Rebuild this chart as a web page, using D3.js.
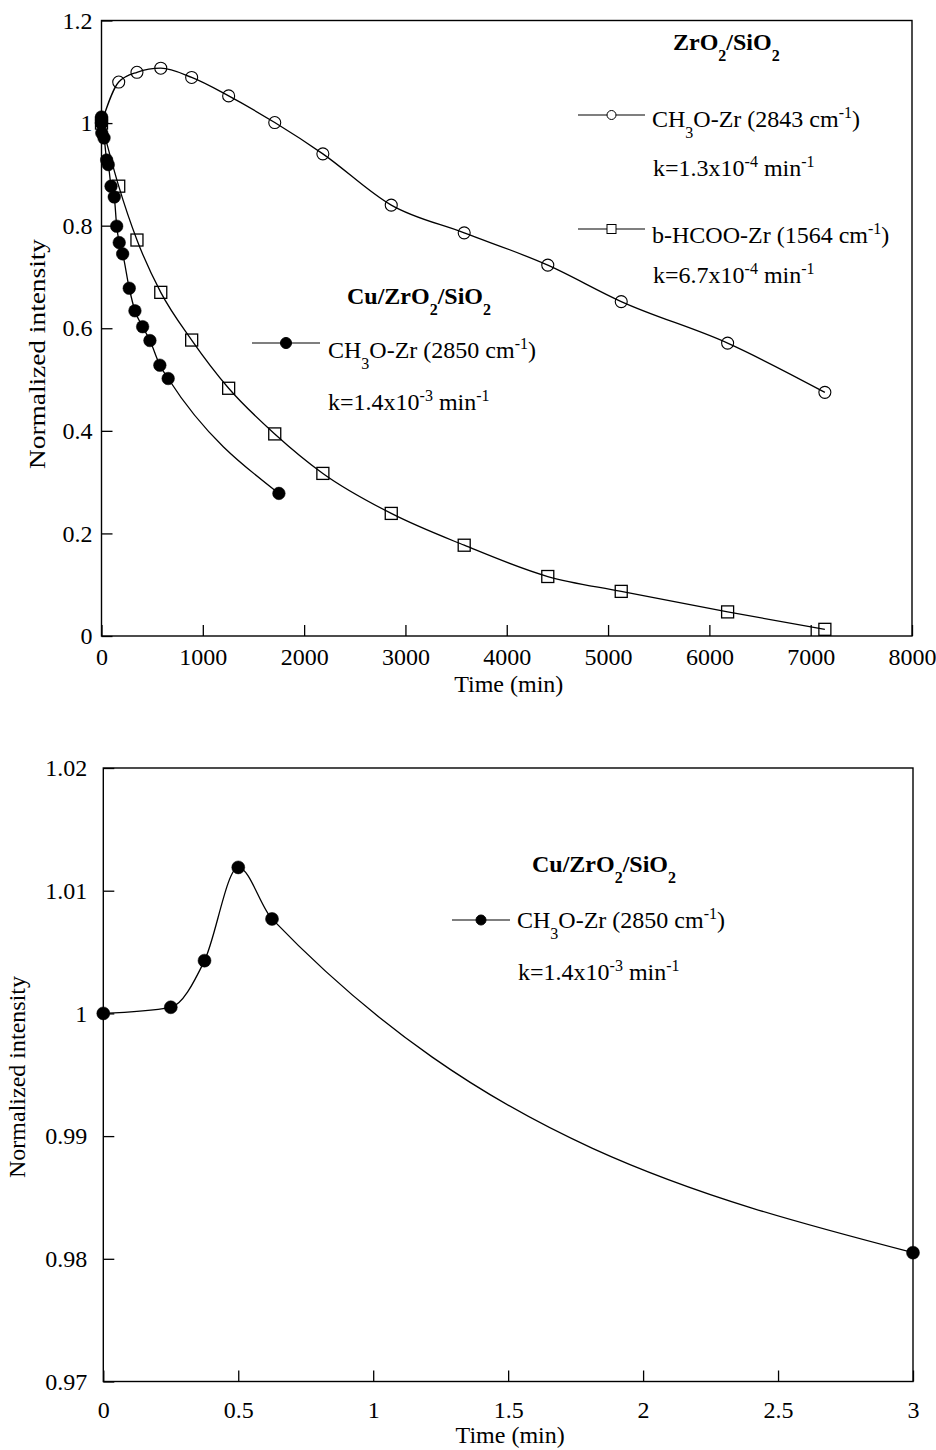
<!DOCTYPE html>
<html>
<head>
<meta charset="utf-8">
<script src="https://cdn.jsdelivr.net/npm/d3@7"></script>
<style>
  body { margin: 0; background: #fff; }
  svg text { font-family: "Liberation Serif", "Times New Roman", serif; fill: #000; white-space: pre; }
</style>
</head>
<body>
<svg id="chart" width="936" height="1450"></svg>
<script>
// upper panel, time in min
const timeZr = [0, 170, 350, 585, 890, 1255, 1710, 2185, 2860, 3580, 4405, 5130, 6180, 7140];
const methoxyZr = [1.0, 1.080, 1.099, 1.107, 1.089, 1.053, 1.001, 0.940, 0.840, 0.786, 0.723, 0.652, 0.571, 0.475];
const formateZr = [1.0, 0.877, 0.772, 0.670, 0.577, 0.483, 0.394, 0.317, 0.239, 0.177, 0.116, 0.087, 0.047, 0.013];

const timeCu = [0, 0.25, 0.375, 0.5, 0.625, 3, 25, 51, 67, 94, 126, 150, 175, 209, 274, 330, 406, 478, 576, 658, 1751];
const methoxyCu = [1.0, 1.0005, 1.0043, 1.0119, 1.0077, 0.9805, 0.971, 0.928, 0.919, 0.877, 0.856, 0.799, 0.767, 0.745, 0.678, 0.634, 0.603, 0.576, 0.528, 0.502, 0.278];

// lower panel: first 3 min of Cu/ZrO2/SiO2
const timeCuEarly = [0, 0.25, 0.375, 0.5, 0.625, 3];
const methoxyCuEarly = [1.0, 1.0005, 1.0043, 1.0119, 1.0077, 0.9805];

const ticksTopX = [0, 1000, 2000, 3000, 4000, 5000, 6000, 7000, 8000];
const ticksTopY = [0, 0.2, 0.4, 0.6, 0.8, 1, 1.2];
const ticksBotX = [0, 0.5, 1, 1.5, 2, 2.5, 3];
const ticksBotY = [0.97, 0.98, 0.99, 1, 1.01, 1.02];

const svg = d3.select('#chart');
const FS = 24;
const fmt = (d) => String(+d.toFixed(3));

function panel(opts) {
  const x = d3.scaleLinear().domain(opts.xDomain).range([opts.left, opts.right]);
  const y = d3.scaleLinear().domain(opts.yDomain).range([opts.bottom, opts.top]);
  const g = svg.append('g');

  g.append('rect')
    .attr('x', opts.left).attr('y', opts.top)
    .attr('width', opts.right - opts.left).attr('height', opts.bottom - opts.top)
    .attr('fill', 'none').attr('stroke', '#000').attr('stroke-width', 1.4);

  const ax = g.append('g').attr('transform', `translate(0,${opts.bottom})`)
    .call(d3.axisBottom(x).tickValues(opts.xTicks).tickFormat(fmt)
      .tickSizeInner(-11).tickSizeOuter(0).tickPadding(opts.xPad));
  const ay = g.append('g').attr('transform', `translate(${opts.left},0)`)
    .call(d3.axisLeft(y).tickValues(opts.yTicks).tickFormat(fmt)
      .tickSizeInner(-11).tickSizeOuter(0).tickPadding(opts.yPad));
  [ax, ay].forEach((a) => {
    a.select('.domain').remove();
    a.selectAll('line').attr('stroke', '#000').attr('stroke-width', 1.3);
    a.selectAll('text').attr('font-size', FS).attr('font-family', null);
  });

  g.append('text')
    .attr('x', (opts.left + opts.right) / 2 + 2).attr('y', opts.xTitleY)
    .attr('text-anchor', 'middle').attr('font-size', FS)
    .text('Time (min)');
  g.append('text')
    .attr('transform', `translate(${opts.yTitleX},${opts.yTitleMid}) rotate(-90) scale(${opts.yTitleStretch},1)`)
    .attr('text-anchor', 'middle').attr('font-size', FS)
    .text('Normalized intensity');

  return { x, y, g };
}

function series(p, xs, ys, marker, r) {
  const pts = xs.map((t, i) => [t, ys[i]]);
  p.g.append('path')
    .datum(pts)
    .attr('fill', 'none').attr('stroke', '#000').attr('stroke-width', 1.3)
    .attr('d', d3.line().x((d) => p.x(d[0])).y((d) => p.y(d[1])).curve(d3.curveMonotoneX));
  drawMarkers(p.g, pts.map((d) => [p.x(d[0]), p.y(d[1])]), marker, r);
}

function drawMarkers(g, pts, marker, r) {
  if (marker === 'square') {
    g.selectAll(null).data(pts).enter().append('rect')
      .attr('x', (d) => d[0] - r).attr('y', (d) => d[1] - r)
      .attr('width', 2 * r).attr('height', 2 * r)
      .attr('fill', 'none').attr('stroke', '#000').attr('stroke-width', 1.3);
  } else {
    g.selectAll(null).data(pts).enter().append('circle')
      .attr('cx', (d) => d[0]).attr('cy', (d) => d[1]).attr('r', r)
      .attr('fill', marker === 'filled' ? '#000' : 'none')
      .attr('stroke', '#000').attr('stroke-width', marker === 'filled' ? 0.5 : 1.1);
  }
}

// text with sub/superscripts: parts are strings or [text, 'sub'|'sup']
function richText(g, x, y, parts, bold) {
  const t = g.append('text').attr('x', x).attr('y', y).attr('font-size', FS)
    .attr('font-weight', bold ? 'bold' : null);
  let shift = 0;
  parts.forEach((p) => {
    const s = typeof p === 'string' ? [p, ''] : p;
    const target = s[1] === 'sub' ? 11 : s[1] === 'sup' ? -9 : 0;
    t.append('tspan').attr('dy', target - shift).attr('font-size', s[1] ? 16 : FS).text(s[0]);
    shift = target;
  });
}

function legendKey(g, x1, x2, y, marker, r) {
  g.append('line').attr('x1', x1).attr('x2', x2).attr('y1', y).attr('y2', y)
    .attr('stroke', '#000').attr('stroke-width', 1.2);
  const m = g.append('g');
  if (marker === 'square') {
    m.append('rect').attr('x', (x1 + x2) / 2 - r).attr('y', y - r)
      .attr('width', 2 * r).attr('height', 2 * r).attr('fill', '#fff').attr('stroke', '#000');
  } else {
    m.append('circle').attr('cx', (x1 + x2) / 2).attr('cy', y).attr('r', r)
      .attr('fill', marker === 'filled' ? '#000' : '#fff').attr('stroke', '#000');
  }
}

// ---- upper panel
const upper = panel({
  xDomain: [0, 8000], yDomain: [0, 1.2],
  left: 101.5, right: 912, top: 20.5, bottom: 636,
  xTicks: ticksTopX, yTicks: ticksTopY, xPad: 12, yPad: 9,
  xTitleY: 692, yTitleX: 45, yTitleMid: 354, yTitleStretch: 1.14,
});
series(upper, timeZr, methoxyZr, 'open', 6);
series(upper, timeZr, formateZr, 'square', 6);
series(upper, timeCu, methoxyCu, 'filled', 6.3);

richText(upper.g, 673, 50, ['ZrO', ['2', 'sub'], '/SiO', ['2', 'sub']], true);
legendKey(upper.g, 578, 645, 115, 'open', 4.5);
richText(upper.g, 652, 127, ['CH', ['3', 'sub'], 'O-Zr (2843 cm', ['-1', 'sup'], ')']);
richText(upper.g, 653, 176, ['k=1.3x10', ['-4', 'sup'], ' min', ['-1', 'sup']]);
legendKey(upper.g, 578, 645, 229, 'square', 4.5);
richText(upper.g, 652, 243, ['b-HCOO-Zr (1564 cm', ['-1', 'sup'], ')']);
richText(upper.g, 653, 283, ['k=6.7x10', ['-4', 'sup'], ' min', ['-1', 'sup']]);

richText(upper.g, 347, 304, ['Cu/ZrO', ['2', 'sub'], '/SiO', ['2', 'sub']], true);
legendKey(upper.g, 252, 320, 343, 'filled', 5.5);
richText(upper.g, 328, 358, ['CH', ['3', 'sub'], 'O-Zr (2850 cm', ['-1', 'sup'], ')']);
richText(upper.g, 328, 410, ['k=1.4x10', ['-3', 'sup'], ' min', ['-1', 'sup']]);

// ---- lower panel
const lower = panel({
  xDomain: [0, 3], yDomain: [0.97, 1.02],
  left: 103.3, right: 913, top: 768, bottom: 1381.5,
  xTicks: ticksBotX, yTicks: ticksBotY, xPad: 19, yPad: 16,
  xTitleY: 1443, yTitleX: 25, yTitleMid: 1077, yTitleStretch: 1,
});
series(lower, timeCuEarly, methoxyCuEarly, 'filled', 6.5);

richText(lower.g, 532, 872, ['Cu/ZrO', ['2', 'sub'], '/SiO', ['2', 'sub']], true);
legendKey(lower.g, 452, 510, 920, 'filled', 5);
richText(lower.g, 517, 928, ['CH', ['3', 'sub'], 'O-Zr (2850 cm', ['-1', 'sup'], ')']);
richText(lower.g, 518, 980, ['k=1.4x10', ['-3', 'sup'], ' min', ['-1', 'sup']]);
</script>
</body>
</html>
